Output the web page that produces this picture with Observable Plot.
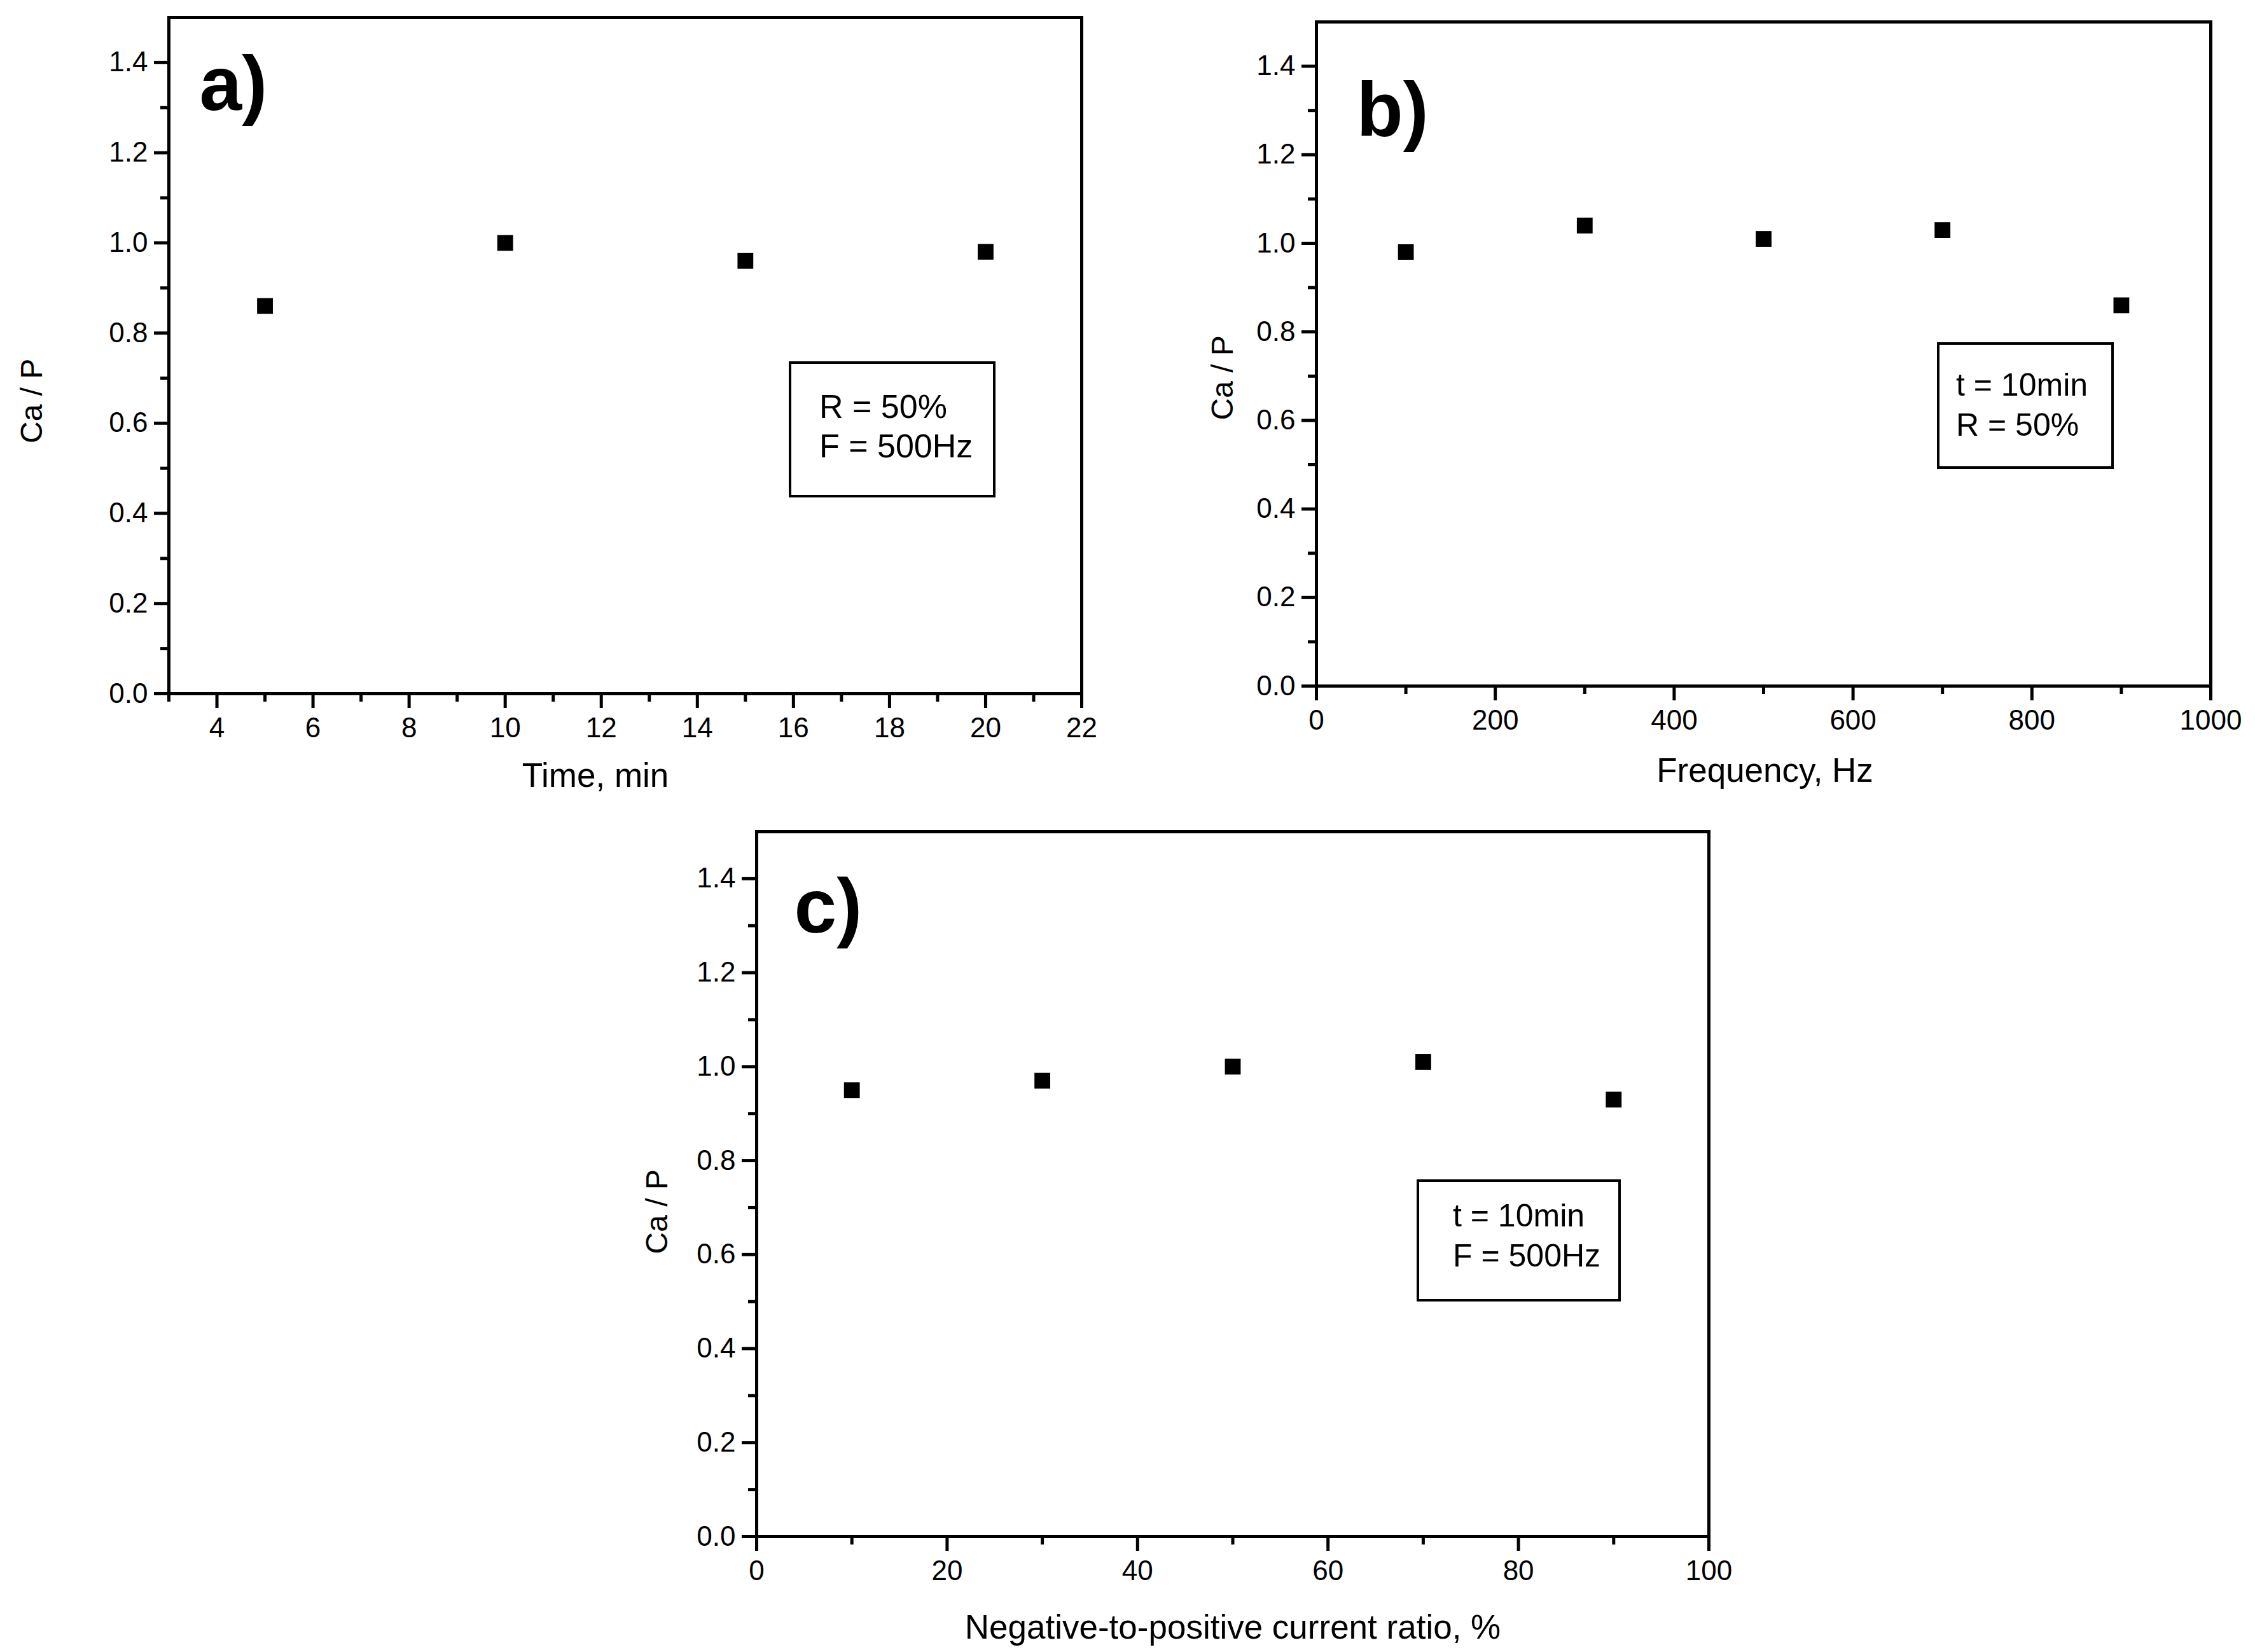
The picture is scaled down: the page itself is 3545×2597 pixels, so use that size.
<!DOCTYPE html>
<html>
<head>
<meta charset="utf-8">
<script src="https://cdn.jsdelivr.net/npm/d3@7"></script>
<script src="https://cdn.jsdelivr.net/npm/@observablehq/plot@0.6"></script>
<style>
  html, body { margin: 0; padding: 0; background: #fff; }
  #page { position: relative; width: 3545px; height: 2597px; background: #fff; overflow: hidden;
          font-family: "Liberation Sans", Arial, Helvetica, sans-serif; color: #000; }
  .panel { position: absolute; }
  .panel svg { overflow: visible; display: block; }
  .legend { position: absolute; box-sizing: border-box; border: 4px solid #000; background: #fff;
            font-family: "Liberation Sans", Arial, sans-serif; white-space: nowrap; color: #000; }
</style>
</head>
<body>
<div id="page"></div>
<script>
// ---- data ----
const timeMin = [5, 10, 15, 20];
const caPTime = [0.86, 1.00, 0.96, 0.98];

const freqHz = [100, 300, 500, 700, 900];
const caPFreq = [0.98, 1.04, 1.01, 1.03, 0.86];

const ratioPct = [10, 30, 50, 70, 90];
const caPRatio = [0.95, 0.97, 1.00, 1.01, 0.93];

// ---- ticks ----
const yTicks = [0, 0.2, 0.4, 0.6, 0.8, 1.0, 1.2, 1.4];
const yMinor = [0.1, 0.3, 0.5, 0.7, 0.9, 1.1, 1.3];
const xTicksA = [4, 6, 8, 10, 12, 14, 16, 18, 20, 22];
const xMinorA = [3, 5, 7, 9, 11, 13, 15, 17, 19, 21];
const xTicksB = [0, 200, 400, 600, 800, 1000];
const xMinorB = [100, 300, 500, 700, 900];
const xTicksC = [0, 20, 40, 60, 80, 100];
const xMinorC = [10, 30, 50, 70, 90];

// ---- labels ----
const yTitle = "Ca / P";
const xTitleA = "Time, min";
const xTitleB = "Frequency, Hz";
const xTitleC = "Negative-to-positive current ratio, %";
const panelLabels = ["a)", "b)", "c)"];
const legendA = ["R = 50%", "F = 500Hz"];
const legendB = ["t = 10min", "R = 50%"];
const legendC = ["t = 10min", "F = 500Hz"];

const FONT = "'Liberation Sans', Arial, Helvetica, sans-serif";

function panel(cfg) {
  const pts = cfg.xs.map((x, i) => ({x, y: cfg.ys[i]}));
  return Plot.plot({
    width: cfg.width, height: cfg.height,
    marginLeft: cfg.ml, marginRight: cfg.mr, marginTop: cfg.mt, marginBottom: cfg.mb,
    x: {domain: cfg.xDomain, label: null},
    y: {domain: [0, 1.5], label: null},
    style: {fontFamily: FONT, color: "#000", background: "transparent", overflow: "visible"},
    marks: [
      Plot.axisX({ticks: cfg.xMinor, tickSize: 13, strokeWidth: 5, tickFormat: () => "", label: null}),
      Plot.axisX({ticks: cfg.xTicks, tickSize: 23, tickPadding: 14, strokeWidth: 5, fontSize: 44, tickFormat: d3.format("d"), label: null}),
      Plot.axisY({ticks: yMinor, tickSize: 13, strokeWidth: 5, tickFormat: () => "", label: null}),
      Plot.axisY({ticks: yTicks, tickSize: 23, tickPadding: 10, strokeWidth: 5, fontSize: 44, tickFormat: d3.format(".1f"), label: null}),
      Plot.frame({stroke: "#000", strokeWidth: 5}),
      Plot.dot(pts, {x: "x", y: "y", symbol: "square", r: 14, fill: "#000", stroke: null}),
      Plot.text([cfg.xTitle], {frameAnchor: "bottom", dx: cfg.xtDx, dy: cfg.xtDy, fontSize: 53, fill: "#000"}),
      Plot.text([yTitle], {frameAnchor: "left", rotate: -90, dx: cfg.ytDx, dy: cfg.ytDy, fontSize: 48, fill: "#000"}),
      Plot.text([cfg.label], {frameAnchor: "top-left", textAnchor: "start", lineAnchor: "bottom", dx: cfg.lDx, dy: cfg.lDy, fontSize: 120, fontWeight: "bold", fill: "#000"})
    ]
  });
}

const page = document.getElementById("page");

function place(el, left, top) {
  const d = document.createElement("div");
  d.className = "panel";
  d.style.left = left + "px";
  d.style.top = top + "px";
  d.appendChild(el);
  page.appendChild(d);
}

place(panel({
  xs: timeMin, ys: caPTime, xDomain: [3, 22], xTicks: xTicksA, xMinor: xMinorA,
  width: 1760, height: 1280, ml: 265, mr: 60, mt: 27, mb: 190,
  xTitle: xTitleA, xtDx: -47, xtDy: 146, ytDx: -215, ytDy: 138,
  label: panelLabels[0], lDx: 48, lDy: 145
}), 0, 0);

place(panel({
  xs: freqHz, ys: caPFreq, xDomain: [0, 1000], xTicks: xTicksB, xMinor: xMinorB,
  width: 1745, height: 1280, ml: 269, mr: 70, mt: 34, mb: 202,
  xTitle: xTitleB, xtDx: 2, xtDy: 150, ytDx: -147, ytDy: 104,
  label: panelLabels[1], lDx: 63, lDy: 179
}), 1800, 0);

place(panel({
  xs: ratioPct, ys: caPRatio, xDomain: [0, 100], xTicks: xTicksC, xMinor: xMinorC,
  width: 1900, height: 1317, ml: 289, mr: 114, mt: 27, mb: 182,
  xTitle: xTitleC, xtDx: 0, xtDy: 160, ytDx: -156, ytDy: 110,
  label: panelLabels[2], lDx: 59, lDy: 158
}), 900, 1280);

function legend(lines, box) {
  const d = document.createElement("div");
  d.className = "legend";
  Object.assign(d.style, {
    left: box.left + "px", top: box.top + "px", width: box.w + "px", height: box.h + "px",
    paddingLeft: box.pl + "px", paddingTop: box.pt + "px",
    fontSize: box.fs + "px", lineHeight: box.lh + "px"
  });
  lines.forEach(t => {
    const l = document.createElement("div");
    l.textContent = t;
    d.appendChild(l);
  });
  page.appendChild(d);
}

legend(legendA, {left: 1240, top: 568, w: 325, h: 214, pl: 44, pt: 36, fs: 52, lh: 62});
legend(legendB, {left: 3045, top: 538, w: 278, h: 199, pl: 26, pt: 32, fs: 50, lh: 63});
legend(legendC, {left: 2227, top: 1854, w: 321, h: 192, pl: 53, pt: 22, fs: 50, lh: 63});
</script>
</body>
</html>
